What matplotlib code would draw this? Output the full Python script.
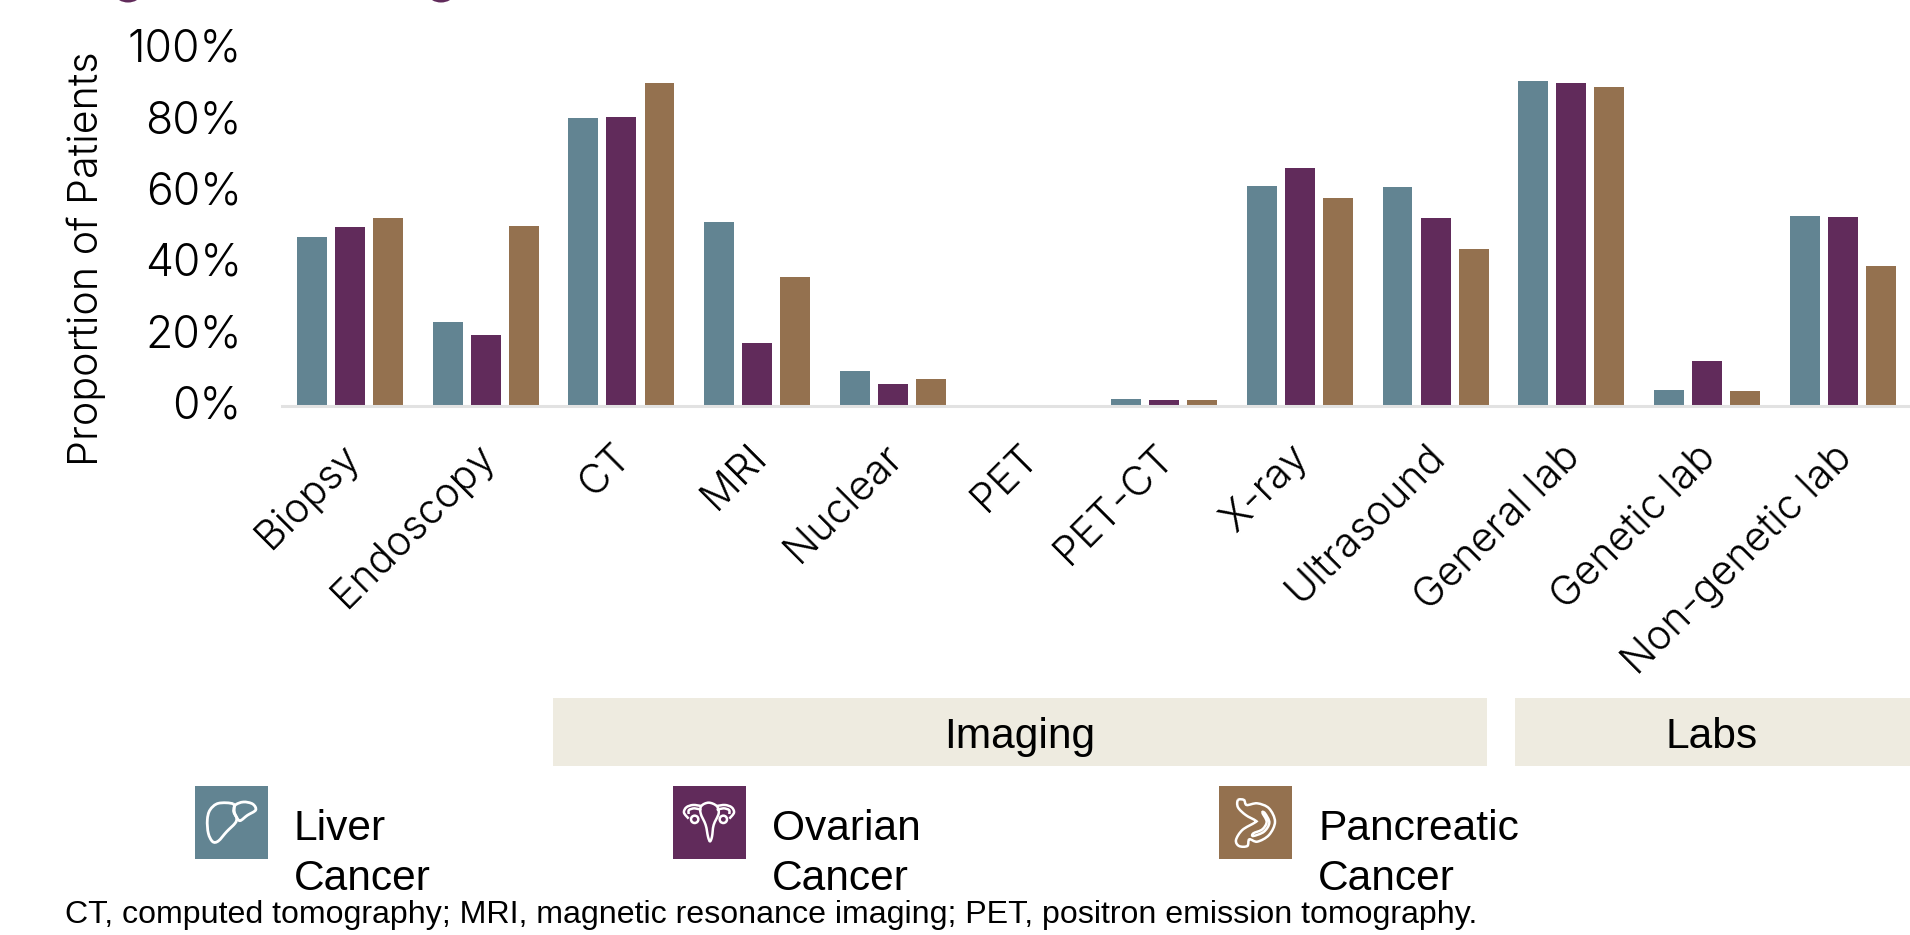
import numpy as np
import matplotlib
matplotlib.use("Agg")
import matplotlib.pyplot as plt
from matplotlib.path import Path
from matplotlib.patches import PathPatch, Rectangle, Circle, Ellipse
from matplotlib.transforms import ScaledTranslation

categories = ["Biopsy", "Endoscopy", "CT", "MRI", "Nuclear", "PET", "PET-CT", "X-ray",
              "Ultrasound", "General lab", "Genetic lab", "Non-genetic lab"]
liver = [47.5, 23.5, 80.7, 51.6, 9.9, 0, 2.0, 61.8, 61.5, 91.2, 4.5, 53.3]
ovarian = [50.1, 19.9, 80.9, 17.8, 6.1, 0, 1.6, 66.6, 52.6, 90.5, 12.5, 53.1]
pancreatic = [52.6, 50.6, 90.5, 36.2, 7.5, 0, 1.8, 58.4, 44.0, 89.5, 4.1, 39.3]
yticks = [0, 20, 40, 60, 80, 100]
TEAL, PURPLE, BROWN = "#628492", "#612B5B", "#94714F"
LIGHT = {"family": "Inter", "weight": 300}
ARIAL = {"family": "Liberation Sans"}

W, H = 1910, 935
fig = plt.figure(figsize=(W / 100, H / 100), dpi=100)

ax = fig.add_axes([282 / W, 1 - 406 / H, (W - 282) / W, 356.7 / H])
px = 135.7
ax.set_xlim((282 - 350) / px, (W - 350) / px)
ax.set_ylim(0, 100)
x = np.arange(len(categories))
bw, off = 29.9 / px, 38.1 / px
ax.bar(x - off, liver, bw, color=TEAL)
ax.bar(x, ovarian, bw, color=PURPLE)
ax.bar(x + off, pancreatic, bw, color=BROWN)
for s in ["top", "right", "left"]:
    ax.spines[s].set_visible(False)
ax.spines["bottom"].set_color("#E2E2E2")
ax.spines["bottom"].set_linewidth(2.2)
ax.set_yticks(yticks, [f"{v}%" for v in yticks], fontsize=32, **LIGHT)
ax.tick_params(axis="y", length=0, pad=29, colors="black")
ax.tick_params(axis="x", length=0)
for t in ax.get_yticklabels():
    t.set_transform(t.get_transform() + ScaledTranslation(0, 4 / 100, fig.dpi_scale_trans))
ax.set_xticks(x, categories, rotation=45, ha="right", va="top", rotation_mode="anchor",
              fontsize=29.5, **LIGHT)
for t in ax.get_xticklabels():
    t.set_transform(t.get_transform() + ScaledTranslation(-10 / 100, -27 / 100, fig.dpi_scale_trans))

ov = fig.add_axes([0, 0, 1, 1], facecolor="none")
ov.set_xlim(0, W)
ov.set_ylim(H, 0)
ov.axis("off")

ov.text(86, 259, "Proportion of Patients", rotation=90, ha="center", va="center", fontsize=29.7, **LIGHT)
for gx in [128, 441]:
    ov.add_patch(Ellipse((gx, -5), 24, 15, color=PURPLE, lw=0))

BAND = "#EEEBE0"
ov.add_patch(Rectangle((553, 698), 934, 67.5, color=BAND, lw=0))
ov.add_patch(Rectangle((1515, 698), 395, 67.5, color=BAND, lw=0))
ov.text(1020, 737, "Imaging", ha="center", va="center", fontsize=30.6, **ARIAL)
ov.text(1712, 737, "Labs", ha="center", va="center", fontsize=30.6, **ARIAL)


def smooth(pts, closed=True):
    p = np.array(pts, float)
    n = len(p)
    verts, codes = [p[0]], [Path.MOVETO]
    for i in range(n if closed else n - 1):
        if closed:
            p0, p1, p2, p3 = p[(i - 1) % n], p[i], p[(i + 1) % n], p[(i + 2) % n]
        else:
            p0, p1, p2, p3 = p[max(i - 1, 0)], p[i], p[i + 1], p[min(i + 2, n - 1)]
        verts += [p1 + (p2 - p0) / 6, p2 - (p3 - p1) / 6, p2]
        codes += [Path.CURVE4] * 3
    return Path(verts, codes)


def icon(x0, paths, circles=(), lw=2.0):
    """paths are in 3x crop coordinates of an 85 px box starting at (x0-5, 780)."""
    for pts, closed in paths:
        q = [(x0 - 5 + a / 3, 780 + b / 3) for a, b in pts]
        ov.add_patch(PathPatch(smooth(q, closed), fc="none", ec="white", lw=lw))
    for a, b, r in circles:
        ov.add_patch(Circle((x0 - 5 + a / 3, 780 + b / 3), r / 3, fc="none", ec="white", lw=lw))


legend = [(195, TEAL, "Liver\nCancer", 293.5), (673, PURPLE, "Ovarian\nCancer", 772), (1219, BROWN, "Pancreatic\nCancer", 1318)]
for x0, c, lab, tx in legend:
    ov.add_patch(Rectangle((x0, 786), 73, 72.5, color=c, lw=0))
    a, b = lab.split("\n")
    ov.text(tx, 829, a, ha="left", va="center", fontsize=30.6, **ARIAL)
    ov.text(tx, 879.5, b, ha="left", va="center", fontsize=30.6, **ARIAL)

icon(195, [
    ([(130, 72), (85, 70), (60, 90), (52, 120), (55, 160), (68, 185), (85, 183), (110, 155), (135, 130), (140, 115), (131, 95)], True),
    ([(135, 76), (160, 66), (188, 72), (197, 90), (172, 106), (150, 122), (139, 110), (133, 95)], True),
])
tubeL = [(100, 78), (75, 75), (55, 82), (48, 98), (62, 116)]
tubeLi = [(100, 90), (80, 85), (63, 90), (62, 102)]
mirror = lambda pts: [(246 - a, b) for a, b in pts]
icon(673, [
    ([(100, 78), (122, 68), (146, 78), (152, 100), (137, 135), (132, 170), (126, 184), (120, 170), (113, 135), (98, 100)], True),
    (tubeL, False), (mirror(tubeL), False), (tubeLi, False), (mirror(tubeLi), False),
], circles=[(80, 118, 11), (166, 118, 11)], lw=1.8)
icon(1219, [
    ([(72, 60), (90, 60), (98, 75), (130, 70), (165, 85), (183, 125), (165, 165), (130, 185), (106, 178), (100, 198), (75, 198), (66, 180), (85, 150), (122, 128), (125, 122), (95, 105), (72, 82)], True),
    ([(145, 98), (153, 100), (166, 128), (150, 155), (118, 168), (118, 160), (145, 148), (158, 125)], True),
], lw=1.8)

ov.text(65, 915.5, "CT, computed tomography; MRI, magnetic resonance imaging; PET, positron emission tomography.",
        ha="left", va="center", fontsize=23.15, **ARIAL)

fig.savefig("out.png", dpi=100)
